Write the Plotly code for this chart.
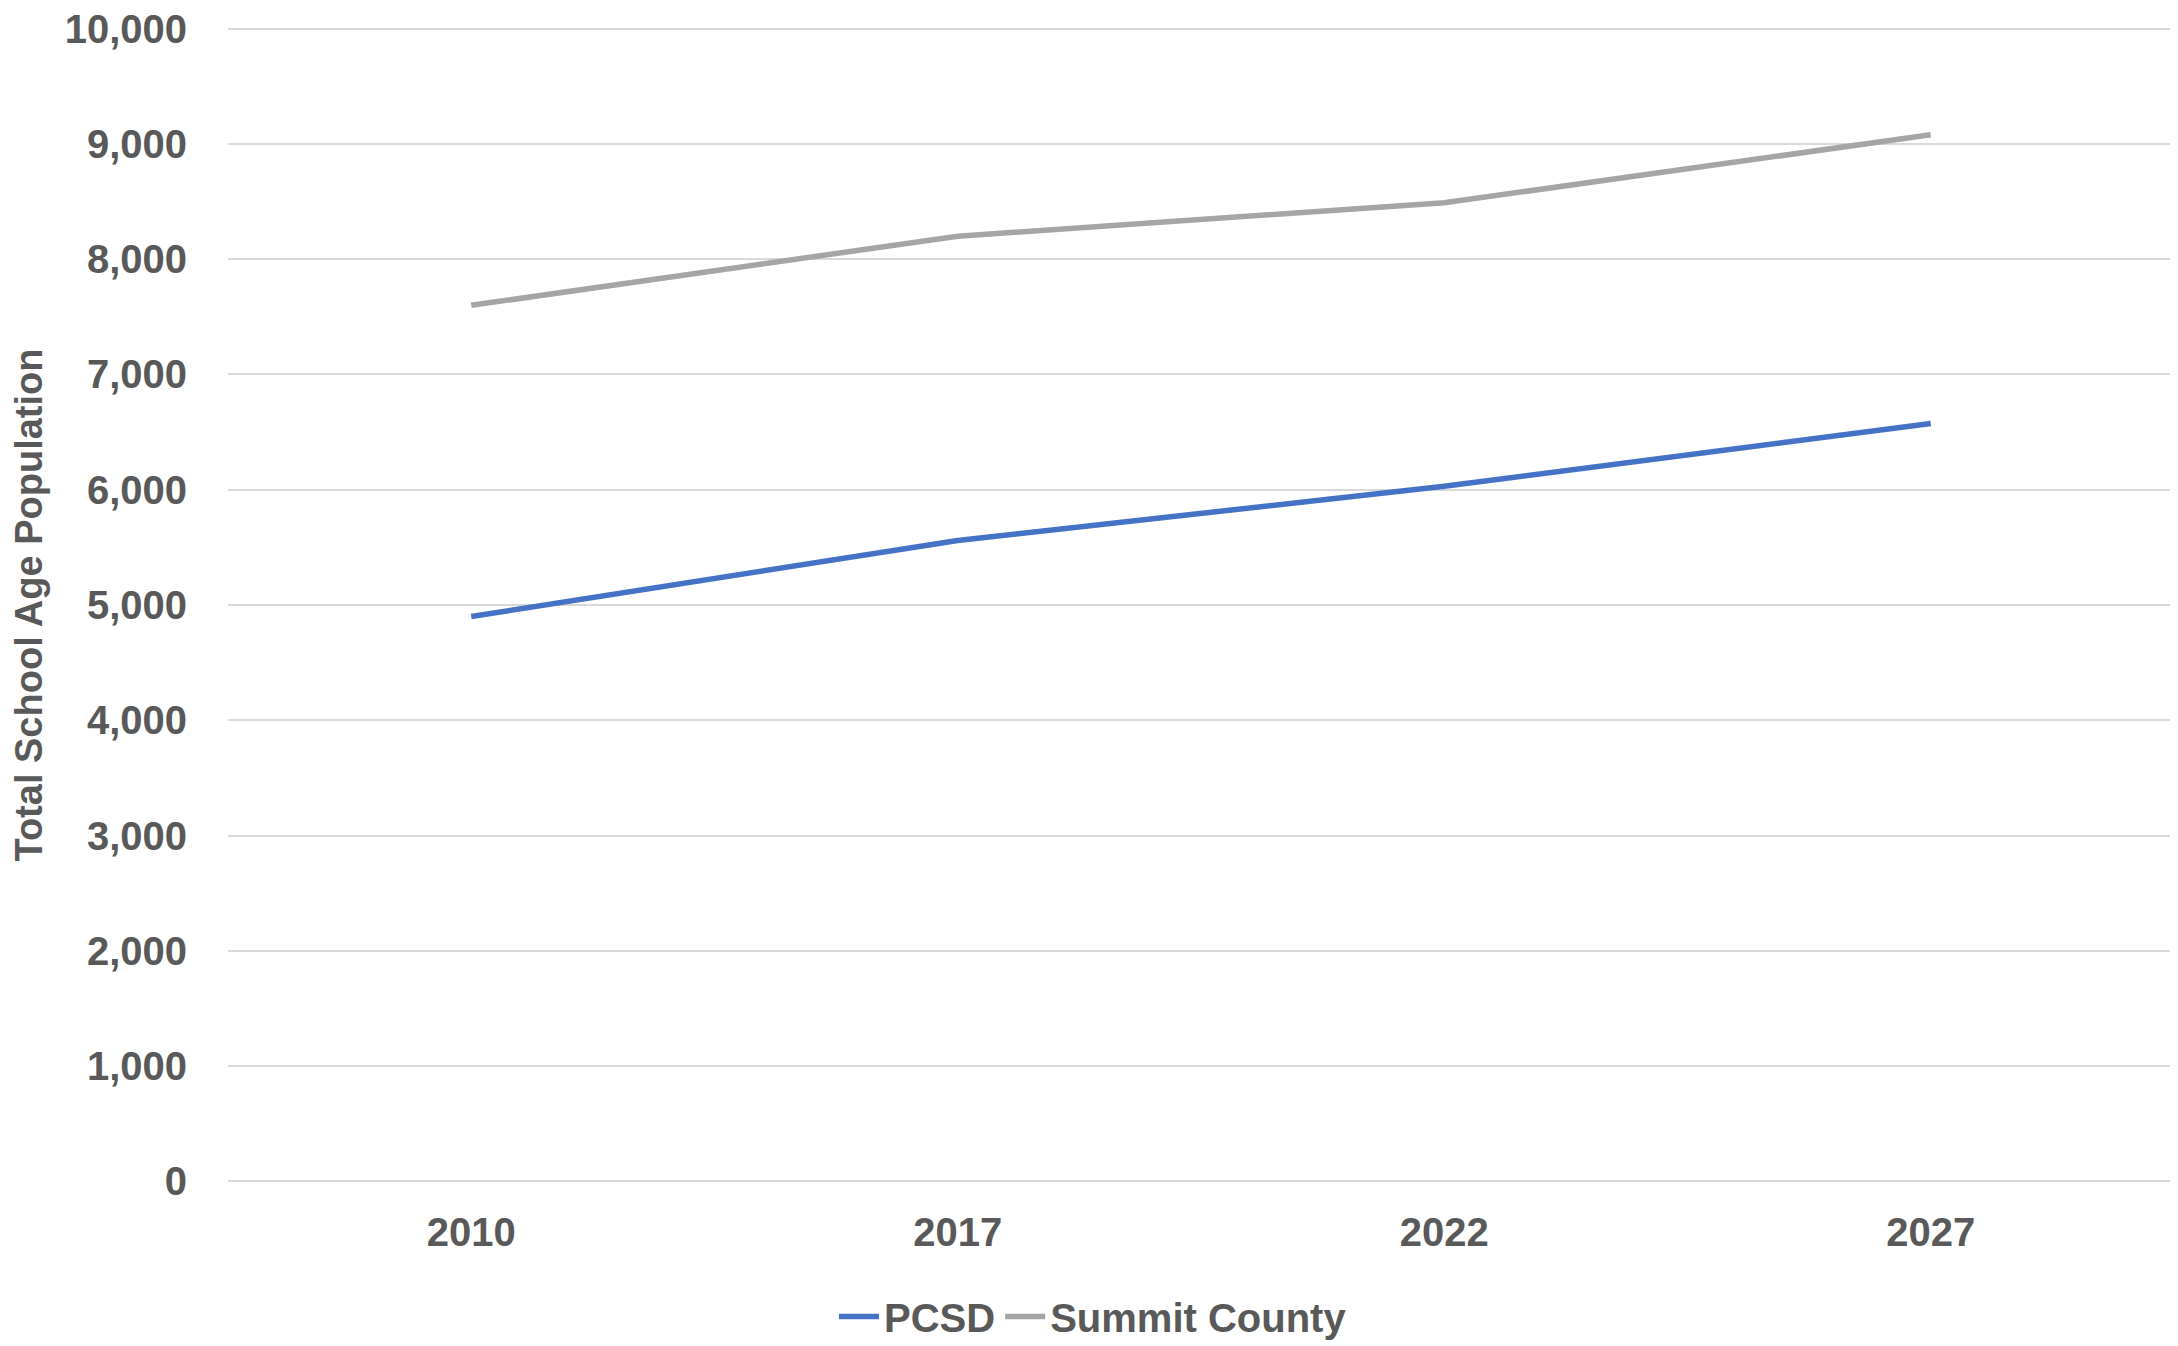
import plotly.graph_objects as go

years = ["2010", "2017", "2022", "2027"]
pcsd = [4900, 5560, 6030, 6575]
summit = [7600, 8200, 8490, 9080]
y_ticks = [0, 1000, 2000, 3000, 4000, 5000, 6000, 7000, 8000, 9000, 10000]

FONT = "Liberation Sans, Arial, sans-serif"
TXT = "#595959"
FS = 40

fig = go.Figure()
fig.add_trace(go.Scatter(x=years, y=pcsd, mode="lines", name="PCSD",
                         line=dict(color="#4472C4", width=5.5)))
fig.add_trace(go.Scatter(x=years, y=summit, mode="lines", name="Summit County",
                         line=dict(color="#A5A5A5", width=5.5)))

fig.update_layout(
    width=2170, height=1338,
    margin=dict(l=220, r=4, t=19, b=163, autoexpand=False),
    paper_bgcolor="white", plot_bgcolor="white",
    font=dict(family=FONT, color=TXT, size=FS),
    showlegend=True,
    legend=dict(orientation="h", xref="container", yref="container",
                x=0.5, xanchor="center", y=0.022, yanchor="middle",
                itemwidth=40,
                font=dict(family=FONT, size=FS, color=TXT, weight="bold")),
)
fig.update_xaxes(type="category", range=[-0.5, 3.5], showgrid=False, zeroline=False,
                 showline=False, ticks="", automargin=False, ticklabelstandoff=22,
                 tickfont=dict(family=FONT, size=FS, color=TXT, weight="bold"))
fig.update_yaxes(range=[-15, 10015], tickvals=y_ticks, tickformat=",",
                 showgrid=True, gridcolor="#D9D9D9", gridwidth=1.5, zeroline=False,
                 showline=False, ticks="", ticklabelstandoff=40, automargin=False,
                 ticklabeloverflow="allow",
                 tickfont=dict(family=FONT, size=FS, color=TXT, weight="bold"),
                 title=dict(text="Total School Age Population", standoff=20,
                            font=dict(family=FONT, size=38, color=TXT, weight="bold")))

fig.write_html("out.html")
